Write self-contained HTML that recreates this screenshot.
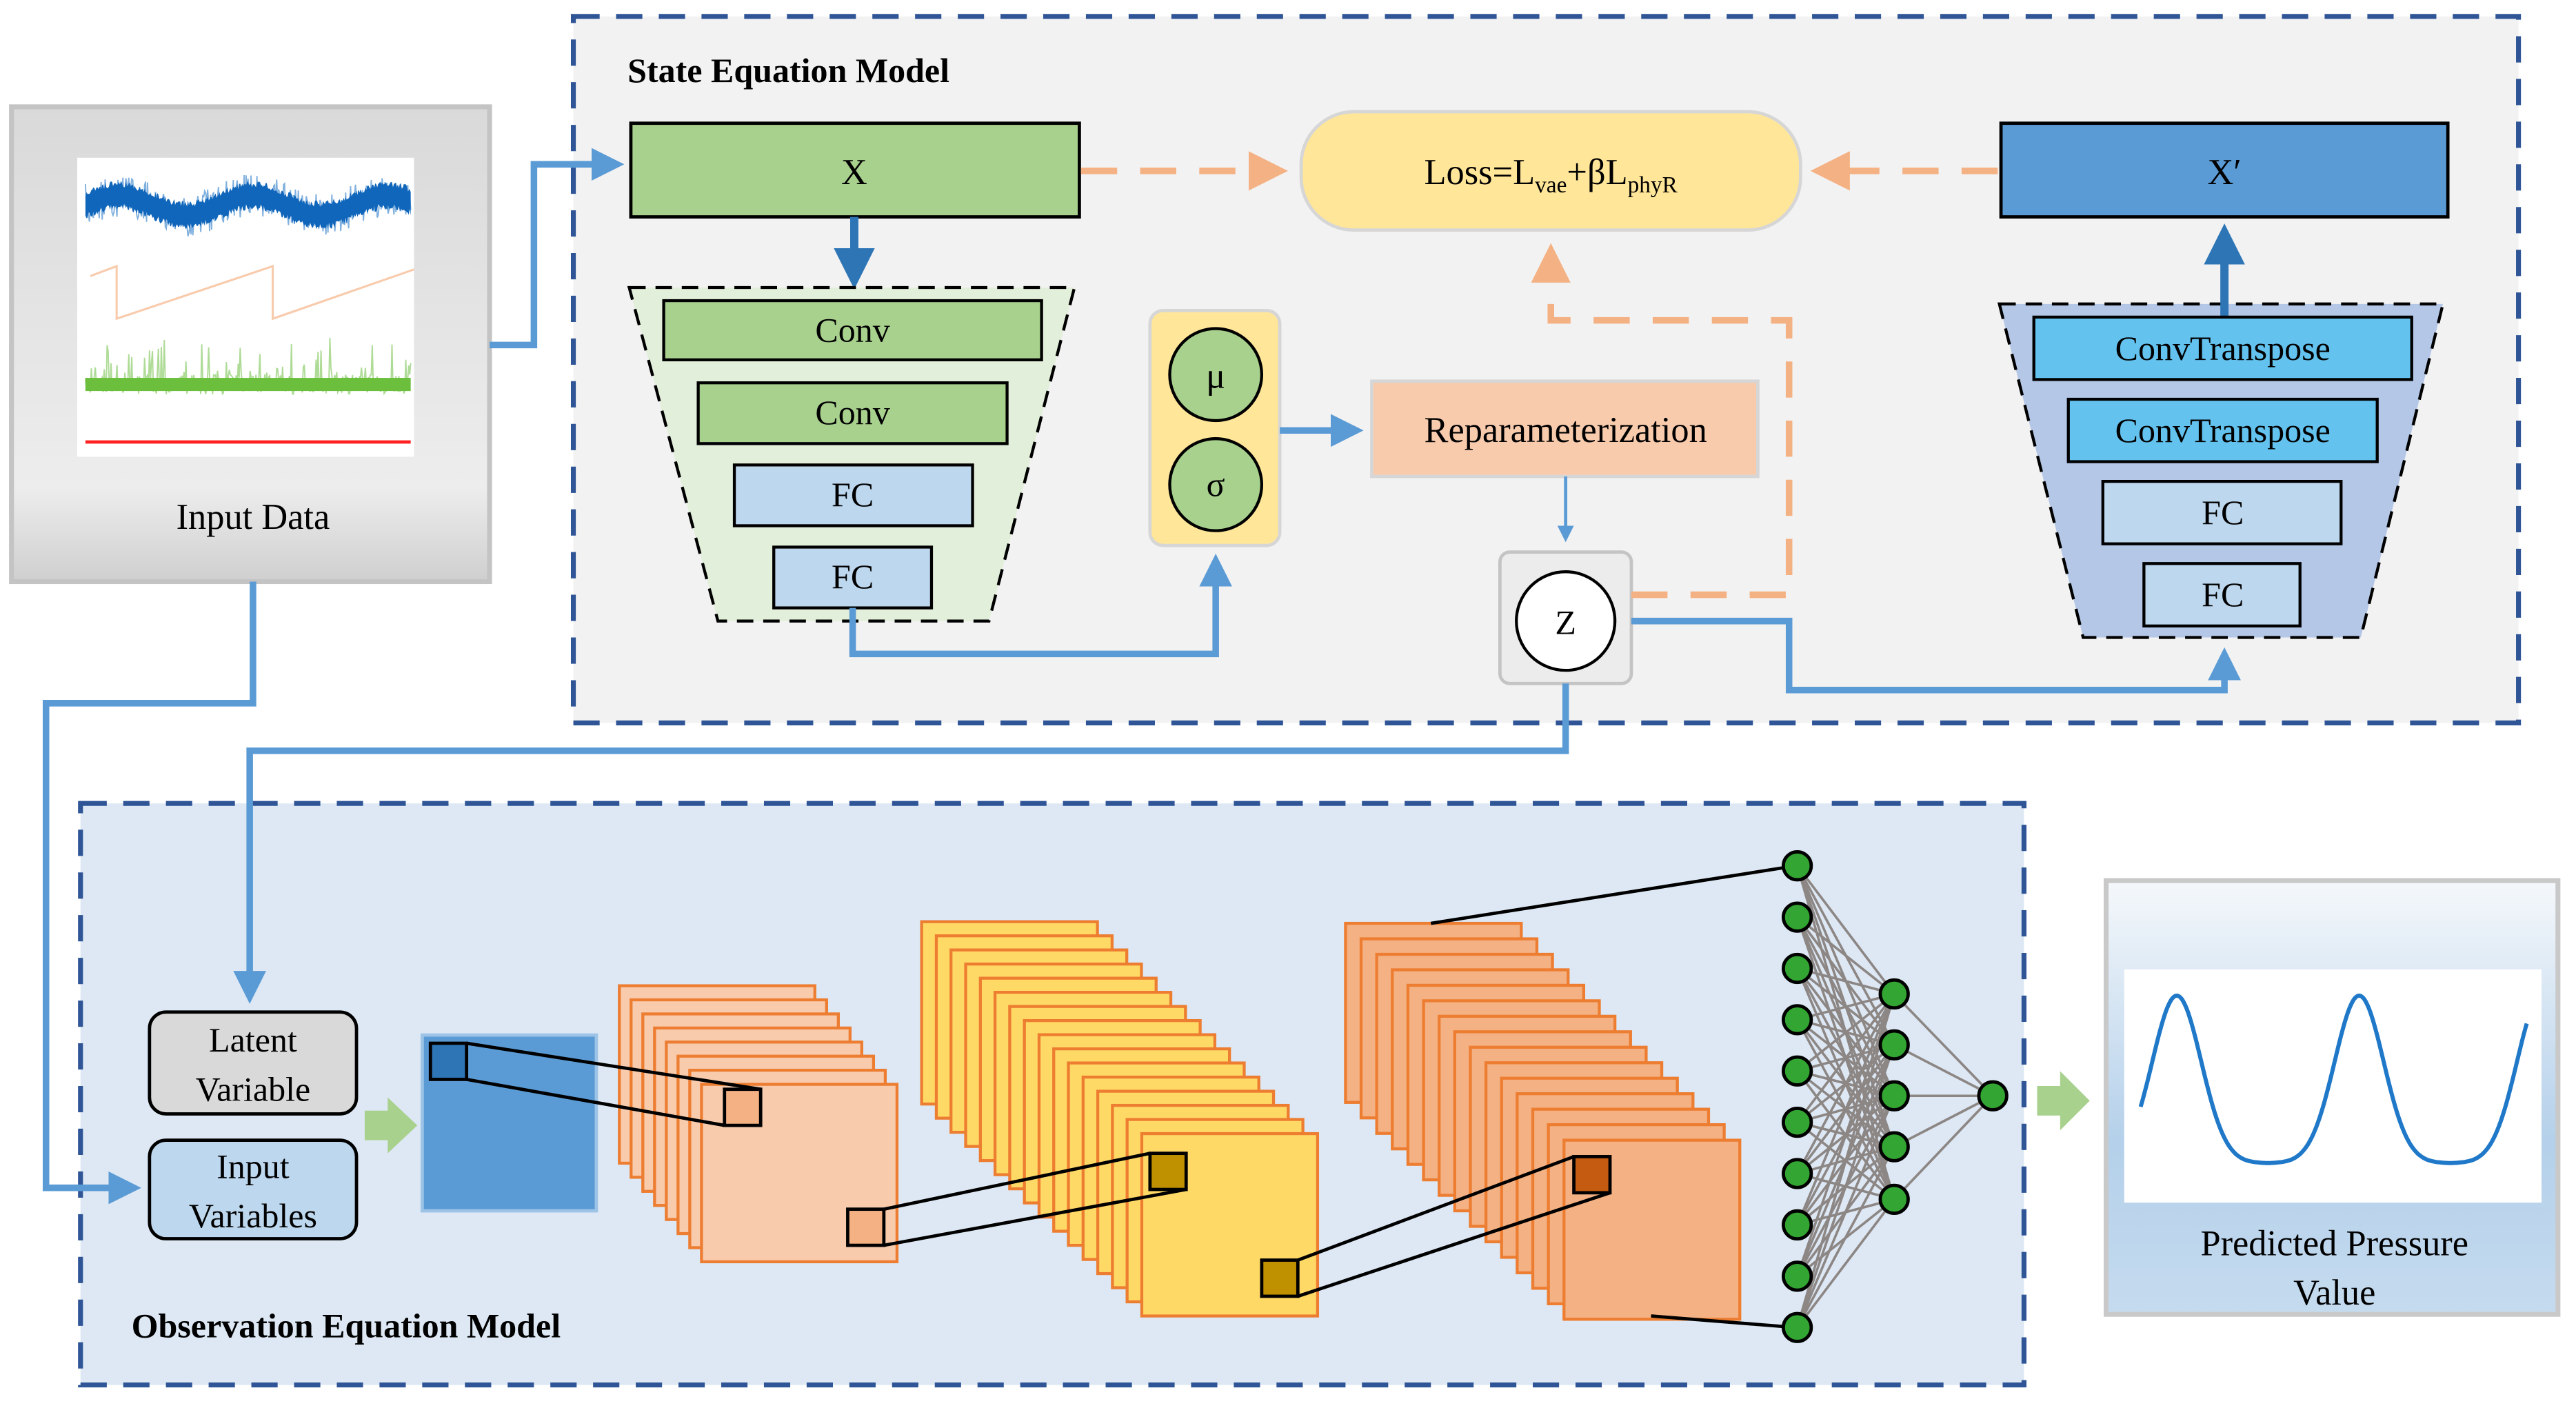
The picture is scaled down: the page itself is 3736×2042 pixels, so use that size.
<!DOCTYPE html>
<html><head><meta charset="utf-8">
<style>
html,body{margin:0;padding:0;background:#fff;}
svg{display:block;}
svg text{font-family:"Liberation Serif","Times New Roman","DejaVu Serif",serif;}
</style></head>
<body>
<svg id="s" width="3736" height="2042" viewBox="0 0 1568 857" xmlns="http://www.w3.org/2000/svg" font-family="Liberation Serif, Times New Roman, DejaVu Serif, serif">
<defs>
<linearGradient id="gIn" x1="0" y1="0" x2="0" y2="1"><stop offset="0" stop-color="#d9d9d9"/><stop offset="0.8" stop-color="#ededed"/><stop offset="1" stop-color="#cfcfcf"/></linearGradient>
<linearGradient id="gOut" x1="0" y1="0" x2="0" y2="1"><stop offset="0" stop-color="#f5f8fb"/><stop offset="0.6" stop-color="#b4d0ea"/><stop offset="1" stop-color="#c5dbef"/></linearGradient>
<marker id="ab" markerWidth="6" markerHeight="6" refX="3" refY="3" orient="auto" markerUnits="strokeWidth"><path d="M0,0.5 L5,3 L0,5.5z" fill="#5b9bd5"/></marker>
<marker id="ab2" markerWidth="6" markerHeight="6" refX="3" refY="3" orient="auto" markerUnits="strokeWidth"><path d="M0,0.5 L5,3 L0,5.5z" fill="#2e75b6"/></marker>
<marker id="ao" markerWidth="7" markerHeight="7" refX="3" refY="3.5" orient="auto" markerUnits="strokeWidth"><path d="M0,0.5 L6,3.5 L0,6.5z" fill="#f4b183"/></marker>
</defs>
<rect x="349" y="10" width="1184" height="430" fill="#f2f2f2" stroke="#2f5597" stroke-width="3" stroke-dasharray="16 10"/>
<text x="382" y="50" font-size="21" font-weight="bold">State Equation Model</text>
<rect x="49" y="489" width="1183" height="354" fill="#dde8f4" stroke="#2f5597" stroke-width="3" stroke-dasharray="16 10"/>
<text x="80" y="814" font-size="21" font-weight="bold">Observation Equation Model</text>

<rect x="7" y="65" width="291" height="289" fill="url(#gIn)" stroke="#c4c4c4" stroke-width="3"/>
<rect x="47" y="96" width="205" height="182" fill="#fff"/>
<g id="sig"></g>
<polyline points="55,168 71,162 71,194 166,162 166,194 252,164" fill="none" stroke="#f8cbad" stroke-width="1.3"/>
<line x1="52" y1="269" x2="250" y2="269" stroke="#ff2020" stroke-width="2"/>
<text x="154" y="322" font-size="22" text-anchor="middle">Input Data</text>

<rect x="384" y="75" width="273" height="57" fill="#a9d18e" stroke="#000" stroke-width="2"/>
<text x="520" y="112" font-size="22" text-anchor="middle">X</text>
<rect x="792" y="68" width="304" height="72" rx="32" fill="#ffe699" stroke="#d6d6d6" stroke-width="2"/>
<text x="944" y="112" font-size="22" text-anchor="middle">Loss=L<tspan font-size="14" dy="5">vae</tspan><tspan dy="-5">+βL</tspan><tspan font-size="14" dy="5">phyR</tspan></text>
<rect x="1218" y="75" width="272" height="57" fill="#5b9bd5" stroke="#000" stroke-width="2"/>
<text x="1354" y="112" font-size="22" text-anchor="middle">X′</text>
<line x1="658" y1="104" x2="772" y2="104" stroke="#f4b183" stroke-width="4" stroke-dasharray="22 14" marker-end="url(#ao)"/>
<line x1="1216" y1="104" x2="1114" y2="104" stroke="#f4b183" stroke-width="4" stroke-dasharray="22 14" marker-end="url(#ao)"/>

<line x1="520" y1="132" x2="520" y2="166" stroke="#2e75b6" stroke-width="5" marker-end="url(#ab2)"/>
<polygon points="383,175 654,175 602,378 437,378" fill="#e2efda" stroke="#000" stroke-width="1.8" stroke-dasharray="10 6"/>
<rect x="404" y="183" width="230" height="36" fill="#a9d18e" stroke="#000" stroke-width="1.8"/>
<text x="519" y="208" font-size="21" text-anchor="middle">Conv</text>
<rect x="425" y="233" width="188" height="37" fill="#a9d18e" stroke="#000" stroke-width="1.8"/>
<text x="519" y="258" font-size="21" text-anchor="middle">Conv</text>
<rect x="447" y="283" width="145" height="37" fill="#bdd7ee" stroke="#000" stroke-width="1.8"/>
<text x="519" y="308" font-size="21" text-anchor="middle">FC</text>
<rect x="471" y="333" width="96" height="37" fill="#bdd7ee" stroke="#000" stroke-width="1.8"/>
<text x="519" y="358" font-size="21" text-anchor="middle">FC</text>
<polyline points="519,370 519,398 740,398 740,345" fill="none" stroke="#5b9bd5" stroke-width="4" marker-end="url(#ab)"/>

<rect x="700" y="189" width="79" height="143" rx="8" fill="#ffe699" stroke="#d6d6d6" stroke-width="2"/>
<circle cx="740" cy="228" r="28" fill="#a9d18e" stroke="#000" stroke-width="1.8"/>
<text x="740" y="236" font-size="22" text-anchor="middle">μ</text>
<circle cx="740" cy="295" r="28" fill="#a9d18e" stroke="#000" stroke-width="1.8"/>
<text x="740" y="302" font-size="21" text-anchor="middle">σ</text>
<line x1="779" y1="262" x2="822" y2="262" stroke="#5b9bd5" stroke-width="4" marker-end="url(#ab)"/>
<rect x="835" y="232" width="235" height="58" fill="#f8cbad" stroke="#d6d6d6" stroke-width="2"/>
<text x="953" y="269" font-size="22" text-anchor="middle">Reparameterization</text>
<line x1="953" y1="290" x2="953" y2="326" stroke="#5b9bd5" stroke-width="2" marker-end="url(#ab)"/>
<rect x="913" y="336" width="80" height="80" rx="6" fill="#ececec" stroke="#c4c4c4" stroke-width="2"/>
<circle cx="953" cy="378" r="30" fill="#fff" stroke="#000" stroke-width="1.8"/>
<text x="953" y="386" font-size="21" text-anchor="middle">Z</text>
<polyline points="993,362 1089,362 1089,195 944,195 944,160" fill="none" stroke="#f4b183" stroke-width="4" stroke-dasharray="22 14" marker-end="url(#ao)"/>
<polyline points="993,378 1089,378 1089,420 1354,420 1354,402" fill="none" stroke="#5b9bd5" stroke-width="4" marker-end="url(#ab)"/>

<polygon points="1217,185 1487,185 1437,388 1268,388" fill="#b4c7e7" stroke="#000" stroke-width="1.8" stroke-dasharray="10 6"/>
<line x1="1354" y1="193" x2="1354" y2="146" stroke="#2e75b6" stroke-width="5" marker-end="url(#ab2)"/>
<rect x="1238" y="193" width="230" height="38" fill="#63c2ee" stroke="#000" stroke-width="1.8"/>
<text x="1353" y="219" font-size="21" text-anchor="middle">ConvTranspose</text>
<rect x="1259" y="243" width="188" height="38" fill="#63c2ee" stroke="#000" stroke-width="1.8"/>
<text x="1353" y="269" font-size="21" text-anchor="middle">ConvTranspose</text>
<rect x="1280" y="293" width="145" height="38" fill="#bdd7ee" stroke="#000" stroke-width="1.8"/>
<text x="1353" y="319" font-size="21" text-anchor="middle">FC</text>
<rect x="1305" y="343" width="95" height="38" fill="#bdd7ee" stroke="#000" stroke-width="1.8"/>
<text x="1353" y="369" font-size="21" text-anchor="middle">FC</text>

<polyline points="298,210 325,210 325,100 372,100" fill="none" stroke="#5b9bd5" stroke-width="4" marker-end="url(#ab)"/>
<polyline points="154,354 154,428 28,428 28,723 78,723" fill="none" stroke="#5b9bd5" stroke-width="4" marker-end="url(#ab)"/>
<polyline points="953,416 953,457 152,457 152,603" fill="none" stroke="#5b9bd5" stroke-width="4" marker-end="url(#ab)"/>

<rect x="91" y="616" width="126" height="62" rx="10" fill="#d9d9d9" stroke="#000" stroke-width="2"/>
<text x="154" y="640" font-size="21" text-anchor="middle">Latent</text>
<text x="154" y="670" font-size="21" text-anchor="middle">Variable</text>
<rect x="91" y="694" width="126" height="60" rx="10" fill="#bdd7ee" stroke="#000" stroke-width="2"/>
<text x="154" y="717" font-size="21" text-anchor="middle">Input</text>
<text x="154" y="747" font-size="21" text-anchor="middle">Variables</text>
<polygon points="222,676 236,676 236,668 254,685 236,702 236,694 222,694" fill="#a9d18e"/>

<rect x="257" y="630" width="106" height="107" fill="#5b9bd5" stroke="#9dc3e6" stroke-width="2"/>
<g id="stacks"></g>
<g id="nn"></g>
<polygon points="1240,661 1254,661 1254,652 1272,670 1254,688 1254,679 1240,679" fill="#a9d18e"/>

<rect x="1282" y="536" width="275" height="264" fill="url(#gOut)" stroke="#c9c9c9" stroke-width="3"/>
<rect x="1293" y="590" width="254" height="142" fill="#fff"/>
<path id="curve" fill="none" stroke="#1f78c8" stroke-width="2.5"/>
<text x="1421" y="764" font-size="22" text-anchor="middle">Predicted Pressure</text>
<text x="1421" y="794" font-size="22" text-anchor="middle">Value</text>
</svg>
<script>
(function(){
var NS="http://www.w3.org/2000/svg";
function el(p,t,a){var e=document.createElementNS(NS,t);for(var k in a)e.setAttribute(k,a[k]);p.appendChild(e);return e;}
var seed=7;function rnd(){seed=(seed*16807)%2147483647;return seed/2147483647;}
var sig=document.getElementById('sig');
var pb=[],pg=[],tp=[],bt=[];
for(var x=52;x<=250;x+=0.6){var c=125-6*Math.sin((x-52)/13);var b=c+(rnd()-0.5)*26;pb.push(x.toFixed(1)+","+b.toFixed(1));
tp.push(x.toFixed(1)+","+(c-7+(rnd()-0.5)*4).toFixed(1));bt.unshift(x.toFixed(1)+","+(c+7+(rnd()-0.5)*4).toFixed(1));
var g=234+(rnd()-0.5)*12 - (rnd()<0.2?rnd()*26:0);pg.push(x.toFixed(1)+","+g.toFixed(1));}
el(sig,'polyline',{points:pb.join(' '),fill:'none',stroke:'#4a8fd0','stroke-width':0.8,'stroke-opacity':0.7});
el(sig,'polygon',{points:tp.concat(bt).join(' '),fill:'#1066bb'});
el(sig,'polyline',{points:pg.join(' '),fill:'none',stroke:'#8ccc6a','stroke-width':0.8,'stroke-opacity':0.7});
el(sig,'rect',{x:52,y:230,width:198,height:8,fill:'#6cbf3c'});
var st=document.getElementById('stacks');
function stack(bx,by,fx,fy,w,h,n,fill,stroke){for(var i=0;i<n;i++){var t=i/(n-1);el(st,'rect',{x:bx+(fx-bx)*t,y:by+(fy-by)*t,width:w,height:h,fill:fill,stroke:stroke,'stroke-width':1.8});}}
stack(377,600,427,660,119,108,8,'#f8cbad','#ed7d31');
stack(561,561,695,690,107,111,16,'#ffd966','#ed7d31');
stack(819,562,952,694,107,109,15,'#f4b183','#ed7d31');
el(st,'rect',{x:262,y:635,width:22,height:22,fill:'#2e75b6',stroke:'#000','stroke-width':2});
el(st,'rect',{x:441,y:663,width:22,height:22,fill:'#f4b183',stroke:'#000','stroke-width':2});
el(st,'line',{x1:284,y1:635,x2:463,y2:663,stroke:'#000','stroke-width':2});
el(st,'line',{x1:284,y1:657,x2:441,y2:685,stroke:'#000','stroke-width':2});
el(st,'rect',{x:516,y:736,width:22,height:22,fill:'#f4b183',stroke:'#000','stroke-width':2});
el(st,'rect',{x:700,y:702,width:22,height:22,fill:'#bf9000',stroke:'#000','stroke-width':2});
el(st,'line',{x1:538,y1:736,x2:700,y2:702,stroke:'#000','stroke-width':2});
el(st,'line',{x1:538,y1:758,x2:722,y2:724,stroke:'#000','stroke-width':2});
el(st,'rect',{x:768,y:767,width:22,height:22,fill:'#bf9000',stroke:'#000','stroke-width':2});
el(st,'rect',{x:958,y:704,width:22,height:22,fill:'#c55a11',stroke:'#000','stroke-width':2});
el(st,'line',{x1:790,y1:767,x2:958,y2:704,stroke:'#000','stroke-width':2});
el(st,'line',{x1:790,y1:789,x2:980,y2:726,stroke:'#000','stroke-width':2});
el(st,'line',{x1:871,y1:562,x2:1093,y2:527,stroke:'#000','stroke-width':2});
el(st,'line',{x1:1005,y1:801,x2:1093,y2:808,stroke:'#000','stroke-width':2});
var nn=document.getElementById('nn');
var c1=[],c2=[605,636,667,698,730];
for(var i=0;i<10;i++)c1.push(527+i*(808-527)/9);
c1.forEach(function(a){c2.forEach(function(b){el(nn,'line',{x1:1094,y1:a,x2:1153,y2:b,stroke:'#8c8684','stroke-width':1.5});});});
c2.forEach(function(b){el(nn,'line',{x1:1153,y1:b,x2:1213,y2:667,stroke:'#8c8684','stroke-width':1.5});});
c1.forEach(function(a){el(nn,'circle',{cx:1094,cy:a,r:8.5,fill:'#33a532',stroke:'#000','stroke-width':2});});
c2.forEach(function(b){el(nn,'circle',{cx:1153,cy:b,r:8.5,fill:'#33a532',stroke:'#000','stroke-width':2});});
el(nn,'circle',{cx:1213,cy:667,r:8.5,fill:'#33a532',stroke:'#000','stroke-width':2});
var d="";
for(var x2=1303;x2<=1538;x2+=1){var ph=((x2-1325)/111);var f=ph-Math.round(ph);var v=Math.exp(-Math.pow(f*111/20,2)*0.9);var y=708-102*v;d+=(d?"L":"M")+x2+","+y.toFixed(1);}
document.getElementById('curve').setAttribute('d',d);
})();
</script>
</body></html>
